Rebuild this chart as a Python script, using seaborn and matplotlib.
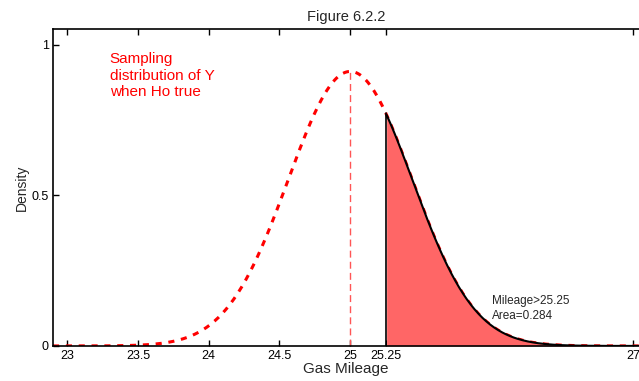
import numpy as np
import pandas as pd
import matplotlib
matplotlib.use("Agg")
import matplotlib.pyplot as plt
import seaborn as sns

# parametri distributie (varf ~0.91, aria > 25.25 = 0.284)
mu = 25.0
sigma = 0.4375
cutoff = 25.25
area_txt = 0.284
x_ticks = [23, 23.5, 24, 24.5, 25, 25.25, 27]
x_tick_labels = ["23", "23.5", "24", "24.5", "25", "25.25", "27"]
y_ticks = [0, 0.5, 1]
y_tick_labels = ["0", "0.5", "1"]

x = np.linspace(22.9, 27.04, 600)
dens = np.exp(-0.5 * ((x - mu) / sigma) ** 2) / (sigma * np.sqrt(2 * np.pi))
df = pd.DataFrame({"mileage": x, "density": dens})
tail = df[df["mileage"] >= cutoff]
peak = 1 / (sigma * np.sqrt(2 * np.pi))
cut_d = np.exp(-0.5 * ((cutoff - mu) / sigma) ** 2) / (sigma * np.sqrt(2 * np.pi))

sns.set_style("white")
plt.rcParams["font.family"] = ["Liberation Sans", "DejaVu Sans"]

fig = plt.figure(figsize=(6.39, 3.81), dpi=100)
ax = fig.add_axes([0.083, 0.092, 0.917, 0.832])

# curba rosie sub zona colorata, linia neagra deasupra
sns.lineplot(data=df, x="mileage", y="density", color="red", lw=2.2,
             linestyle=(0, (2, 2.2)), ax=ax, zorder=1)
ax.fill_between(tail["mileage"], 0, tail["density"], color="#ff6666", lw=0, zorder=2)
sns.lineplot(data=tail, x="mileage", y="density", color="black", lw=1.5, ax=ax, zorder=3)
ax.plot([mu, mu], [0, peak], color="#ff5555", lw=1, linestyle=(0, (5, 3)), zorder=1)
ax.plot([cutoff, cutoff], [0, cut_d], color="black", lw=1.2, zorder=3)

ax.text(23.3, 0.975, "Sampling\ndistribution of Y\nwhen Ho true", color="red",
        fontsize=11, va="top", ha="left", linespacing=1.2)
ax.text(26.0, 0.08, "Mileage>25.25\nArea=" + str(area_txt), fontsize=8.5,
        va="bottom", ha="left", linespacing=1.3, zorder=4)

ax.set_xlim(22.9, 27.04)
ax.set_ylim(0, 1.053)
ax.set_xticks(x_ticks)
ax.set_xticklabels(x_tick_labels)
ax.set_yticks(y_ticks)
ax.set_yticklabels(y_tick_labels)
ax.tick_params(axis="both", direction="in", length=4, width=1, labelsize=9,
               top=True, bottom=True, left=True, colors="black", pad=3)
for s in ["left", "bottom", "top"]:
    ax.spines[s].set_color("black")
    ax.spines[s].set_linewidth(1.2)
    ax.spines[s].set_zorder(5)
ax.spines["right"].set_visible(False)

ax.set_xlabel("Gas Mileage", fontsize=11, labelpad=0)
ax.set_ylabel("Density", fontsize=10, labelpad=2)
ax.set_title("Figure 6.2.2", fontsize=10.5, pad=6)

fig.savefig("out.png", dpi=100)
